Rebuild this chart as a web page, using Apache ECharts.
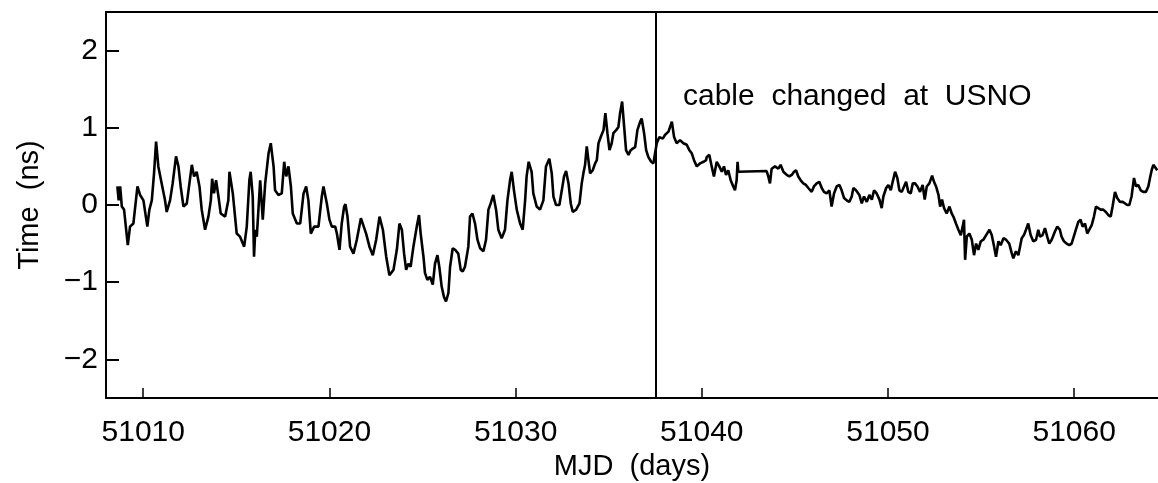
<!DOCTYPE html>
<html>
<head>
<meta charset="utf-8">
<script src="https://cdn.jsdelivr.net/npm/echarts@6/dist/echarts.min.js"></script>
<style>
html,body{margin:0;padding:0;background:#fff;}
#chart{width:1158px;height:483px;}
</style>
</head>
<body>
<div id="chart"></div>
<script>
// ---- data ----
const mjd = [
51008.61,51008.68,51008.76,51008.85,51008.97,51009.17,51009.29,51009.47,51009.69,51009.83,
51010.01,51010.22,51010.33,51010.46,51010.58,51010.69,51010.81,51010.99,51011.17,51011.26,
51011.44,51011.58,51011.76,51011.89,51012.01,51012.16,51012.34,51012.48,51012.61,51012.73,
51012.87,51013.02,51013.14,51013.32,51013.50,51013.63,51013.70,51013.80,51013.91,51014.04,
51014.16,51014.40,51014.57,51014.63,51014.81,51015.02,51015.20,51015.42,51015.56,51015.70,
51015.77,51015.88,51015.95,51016.02,
51016.10,51016.28,51016.42,51016.55,51016.73,51016.85,51017.00,51017.08,51017.26,51017.44,
51017.57,51017.68,51017.80,51017.93,51018.03,51018.25,51018.43,51018.61,51018.75,51018.87,
51019.00,51019.18,51019.41,51019.59,51019.68,51019.86,51020.00,51020.13,51020.31,51020.40,
51020.54,51020.66,51020.79,51020.86,51020.97,51021.11,51021.29,51021.47,51021.69,51021.79,
51021.97,51022.15,51022.33,51022.51,51022.69,51022.87,51023.05,51023.22,51023.44,51023.62,
51023.76,51023.89,51024.01,51024.12,
51024.15,51024.24,51024.36,51024.51,51024.69,51024.81,51024.90,51025.05,51025.13,51025.26,
51025.40,51025.55,51025.67,51025.80,51025.90,51026.03,51026.15,51026.26,51026.39,51026.48,
51026.62,51026.75,51026.92,51027.05,51027.16,51027.28,51027.46,51027.55,51027.68,51027.82,
51027.95,51028.09,51028.27,51028.41,51028.54,51028.66,51028.80,51028.95,51029.07,51029.25,
51029.43,51029.56,51029.70,51029.79,51029.91,51030.06,51030.24,51030.38,51030.51,51030.59,
51030.70,51030.86,51030.95,51031.13,51031.31,51031.49,51031.63,51031.81,51031.94,51032.03,
51032.17,
51032.21,51032.35,51032.48,51032.60,51032.71,51032.84,51032.96,51033.07,51033.25,51033.43,
51033.55,51033.64,51033.73,51033.82,51033.91,51034.00,51034.14,51034.27,51034.36,51034.45,
51034.57,51034.72,51034.82,51034.93,51035.04,51035.16,51035.25,51035.40,51035.52,51035.61,
51035.72,51035.83,51035.93,51036.06,51036.18,51036.29,51036.42,51036.54,51036.69,51036.77,
51036.90,51037.01,51037.13,51037.28,51037.40,51037.58,51037.72,51037.90,51038.03,51038.21,
51038.39,51038.51,51038.65,51038.83,51039.01,51039.19,51039.33,51039.46,51039.58,51039.73,
51039.91,51040.09,51040.23,
51040.26,51040.40,51040.53,51040.65,51040.80,51040.94,51041.07,51041.19,51041.30,51041.42,
51041.55,51041.69,51041.78,51041.87,51041.92,51041.96,51043.48,51043.57,51043.66,51043.75,
51043.93,51044.11,51044.23,51044.38,51044.56,51044.70,51044.83,51044.95,51045.06,51045.18,
51045.31,51045.45,51045.59,51045.72,51045.90,51046.02,51046.17,51046.31,51046.44,51046.56,
51046.70,51046.85,51046.97,51047.10,51047.24,51047.39,51047.51,51047.64,51047.78,51047.92,
51048.05,51048.14,51048.28,
51048.32,51048.46,51048.59,51048.71,51048.86,51049.00,51049.13,51049.25,51049.39,51049.54,
51049.66,51049.75,51049.90,51050.02,51050.15,51050.25,51050.38,51050.50,51050.61,51050.74,
51050.86,51050.97,51051.09,51051.22,51051.33,51051.45,51051.58,51051.72,51051.86,51051.97,
51052.08,51052.22,51052.37,51052.47,51052.58,51052.71,51052.80,51052.90,51053.01,51053.15,
51053.30,51053.42,51053.51,51053.65,51053.78,51053.91,51054.01,51054.08,51054.14,51054.23,
51054.37,51054.50,51054.62,51054.73,51054.85,51054.98,51055.12,51055.27,51055.45,51055.57,
51055.70,51055.80,51055.93,51056.05,51056.20,51056.34,
51056.37,51056.51,51056.64,51056.73,51056.87,51057.00,51057.09,51057.18,51057.30,51057.41,
51057.53,51057.66,51057.80,51057.95,51058.07,51058.16,51058.30,51058.43,51058.55,51058.66,
51058.79,51058.97,51059.09,51059.23,51059.32,51059.45,51059.59,51059.74,51059.86,51059.95,
51060.09,51060.22,51060.34,51060.45,51060.58,51060.70,51060.81,51060.94,51061.06,51061.17,
51061.29,51061.42,51061.56,51061.70,51061.83,51061.96,51062.06,51062.19,51062.31,51062.46,
51062.60,51062.73,51062.85,51062.96,51063.08,51063.21,51063.32,51063.44,51063.57,51063.71,
51063.85,51063.98,51064.07,51064.16,51064.25,51064.35,51064.46
];
const timeNs = [
0.24,0.06,0.24,-0.02,-0.06,-0.52,-0.28,-0.24,0.24,0.13,
0.06,-0.28,-0.06,0.06,0.41,0.82,0.50,0.28,0.06,-0.09,
0.06,0.28,0.63,0.50,0.24,-0.02,0.02,0.28,0.52,0.37,
0.43,0.24,-0.06,-0.32,-0.15,0.06,0.34,0.15,0.32,0.11,
-0.11,-0.15,0.06,0.43,0.15,-0.37,-0.41,-0.54,-0.28,0.32,
0.43,0.11,-0.67,-0.32,
-0.41,0.32,-0.19,0.28,0.67,0.80,0.50,0.19,0.13,0.15,
0.56,0.37,0.50,0.24,-0.11,-0.24,-0.24,0.15,0.24,0.06,
-0.37,-0.28,-0.28,0.11,0.24,0.02,-0.19,-0.28,-0.28,-0.37,
-0.58,-0.24,-0.02,0.01,-0.15,-0.54,-0.63,-0.45,-0.17,-0.15,
-0.37,-0.54,-0.65,-0.45,-0.15,-0.32,-0.67,-0.91,-0.84,-0.58,
-0.24,-0.32,-0.63,-0.84,
-0.84,-0.76,-0.80,-0.54,-0.28,-0.13,-0.37,-0.67,-0.88,-0.97,
-0.93,-1.03,-0.76,-0.65,-0.80,-1.06,-1.19,-1.25,-1.14,-0.80,
-0.56,-0.58,-0.63,-0.84,-0.86,-0.80,-0.54,-0.15,-0.11,-0.24,
-0.45,-0.56,-0.60,-0.45,-0.06,0.02,0.13,-0.06,-0.32,-0.43,
-0.32,0.06,0.32,0.43,0.19,-0.06,-0.24,-0.32,0.06,0.37,
0.56,0.43,0.15,-0.02,-0.06,0.06,0.50,0.60,0.41,0.11,
0.00,
0.02,0.00,0.19,0.37,0.44,0.28,0.02,-0.09,-0.06,0.02,
0.28,0.41,0.52,0.76,0.58,0.41,0.45,0.54,0.58,0.80,
0.88,0.97,1.19,0.93,0.71,0.80,0.93,0.97,1.01,1.19,
1.34,1.01,0.71,0.65,0.71,0.73,0.75,0.97,1.08,1.12,
0.93,0.71,0.62,0.56,0.54,0.80,0.88,0.86,0.91,0.95,
1.08,0.88,0.80,0.84,0.80,0.78,0.71,0.67,0.58,0.50,
0.54,0.56,0.58,
0.62,0.65,0.50,0.37,0.56,0.50,0.43,0.50,0.39,0.45,
0.32,0.24,0.19,0.32,0.56,0.43,0.44,0.37,0.28,0.47,
0.50,0.47,0.52,0.43,0.39,0.37,0.39,0.43,0.45,0.37,
0.32,0.28,0.26,0.22,0.17,0.24,0.28,0.30,0.22,0.17,
0.15,0.19,-0.02,0.15,0.24,0.26,0.19,0.09,0.06,0.04,
0.11,0.22,0.19,
0.17,0.13,0.02,0.11,0.04,0.13,0.07,0.19,0.15,0.07,
-0.04,0.11,0.22,0.26,0.19,0.30,0.43,0.35,0.19,0.17,
0.24,0.30,0.17,0.15,0.28,0.28,0.24,0.17,0.26,0.07,
0.24,0.28,0.38,0.30,0.24,0.13,-0.02,0.07,-0.04,-0.11,
-0.02,-0.11,-0.15,-0.24,-0.32,-0.39,-0.28,-0.19,-0.71,-0.41,
-0.37,-0.45,-0.65,-0.50,-0.58,-0.47,-0.45,-0.39,-0.32,-0.39,
-0.54,-0.67,-0.47,-0.52,-0.43,-0.45,
-0.45,-0.50,-0.62,-0.69,-0.60,-0.65,-0.54,-0.43,-0.39,-0.32,
-0.24,-0.39,-0.47,-0.45,-0.32,-0.41,-0.39,-0.30,-0.41,-0.50,
-0.45,-0.34,-0.28,-0.32,-0.41,-0.47,-0.50,-0.52,-0.50,-0.43,
-0.32,-0.22,-0.19,-0.28,-0.24,-0.37,-0.32,-0.26,-0.15,-0.02,
-0.04,-0.06,-0.06,-0.09,-0.13,-0.15,-0.02,0.17,0.09,0.04,
0.04,0.02,0.00,0.00,0.11,0.35,0.24,0.26,0.19,0.17,
0.17,0.24,0.35,0.45,0.52,0.50,0.45
];
const xTicks = [51010, 51020, 51030, 51040, 51050, 51060];
const yTicks = [-2, -1, 0, 1, 2];
const xRange = [51008, 51064.5];
const yRange = [-2.5, 2.5];
const cableChangeMJD = 51037.5;
const annotation = 'cable  changed  at  USNO';
const xName = 'MJD  (days)';
const yName = 'Time  (ns)';

const seriesData = mjd.map((m, i) => [m, timeNs[i]]);
const FONT = '"Liberation Sans", Arial, sans-serif';

const chart = echarts.init(document.getElementById('chart'), null, {renderer: 'canvas'});
chart.setOption({
  animation: false,
  backgroundColor: '#fff',
  grid: {left: 106, top: 12, bottom: 85, right: 0, show: false, containLabel: false, outerBoundsMode: 'none'},
  xAxis: [{
    type: 'value', min: xRange[0], max: xRange[1], position: 'bottom',
    name: xName, nameLocation: 'middle', nameGap: 52,
    nameTextStyle: {fontFamily: FONT, fontSize: 29, color: '#000'},
    axisLine: {show: true, onZero: false, lineStyle: {color: '#000', width: 2}},
    axisTick: {show: true, inside: true, length: 10, lineStyle: {color: '#000', width: 1.5}, customValues: xTicks},
    axisLabel: {fontFamily: FONT, fontSize: 30, color: '#000', margin: 20, customValues: xTicks,
      formatter: v => String(v)},
    splitLine: {show: false}
  }, {
    type: 'value', min: xRange[0], max: xRange[1], position: 'top',
    axisLine: {show: true, onZero: false, lineStyle: {color: '#000', width: 2}},
    axisTick: {show: false}, axisLabel: {show: false}, splitLine: {show: false}
  }],
  yAxis: {
    type: 'value', min: yRange[0], max: yRange[1],
    name: yName, nameLocation: 'middle', nameGap: 62, nameRotate: 90,
    nameTextStyle: {fontFamily: FONT, fontSize: 29, color: '#000'},
    axisLine: {show: true, onZero: false, lineStyle: {color: '#000', width: 2}},
    axisTick: {show: true, inside: true, length: 13, lineStyle: {color: '#000', width: 2}, customValues: yTicks},
    axisLabel: {fontFamily: FONT, fontSize: 30, color: '#000', margin: 8, customValues: yTicks,
      formatter: v => String(v).replace('-', '\u2212')},
    splitLine: {show: false}
  },
  series: [{
    type: 'line',
    xAxisIndex: 0,
    data: seriesData,
    showSymbol: false,
    symbol: 'none',
    lineStyle: {color: '#000', width: 2.6},
    markLine: {
      silent: true, symbol: ['none', 'none'],
      label: {show: false},
      lineStyle: {color: '#000', width: 2, type: 'solid'},
      data: [{xAxis: cableChangeMJD}]
    }
  }],
  graphic: [{
    type: 'text', left: 683, top: 82,
    style: {text: annotation, font: '30px ' + FONT, fill: '#000'}
  }]
});
</script>
</body>
</html>
